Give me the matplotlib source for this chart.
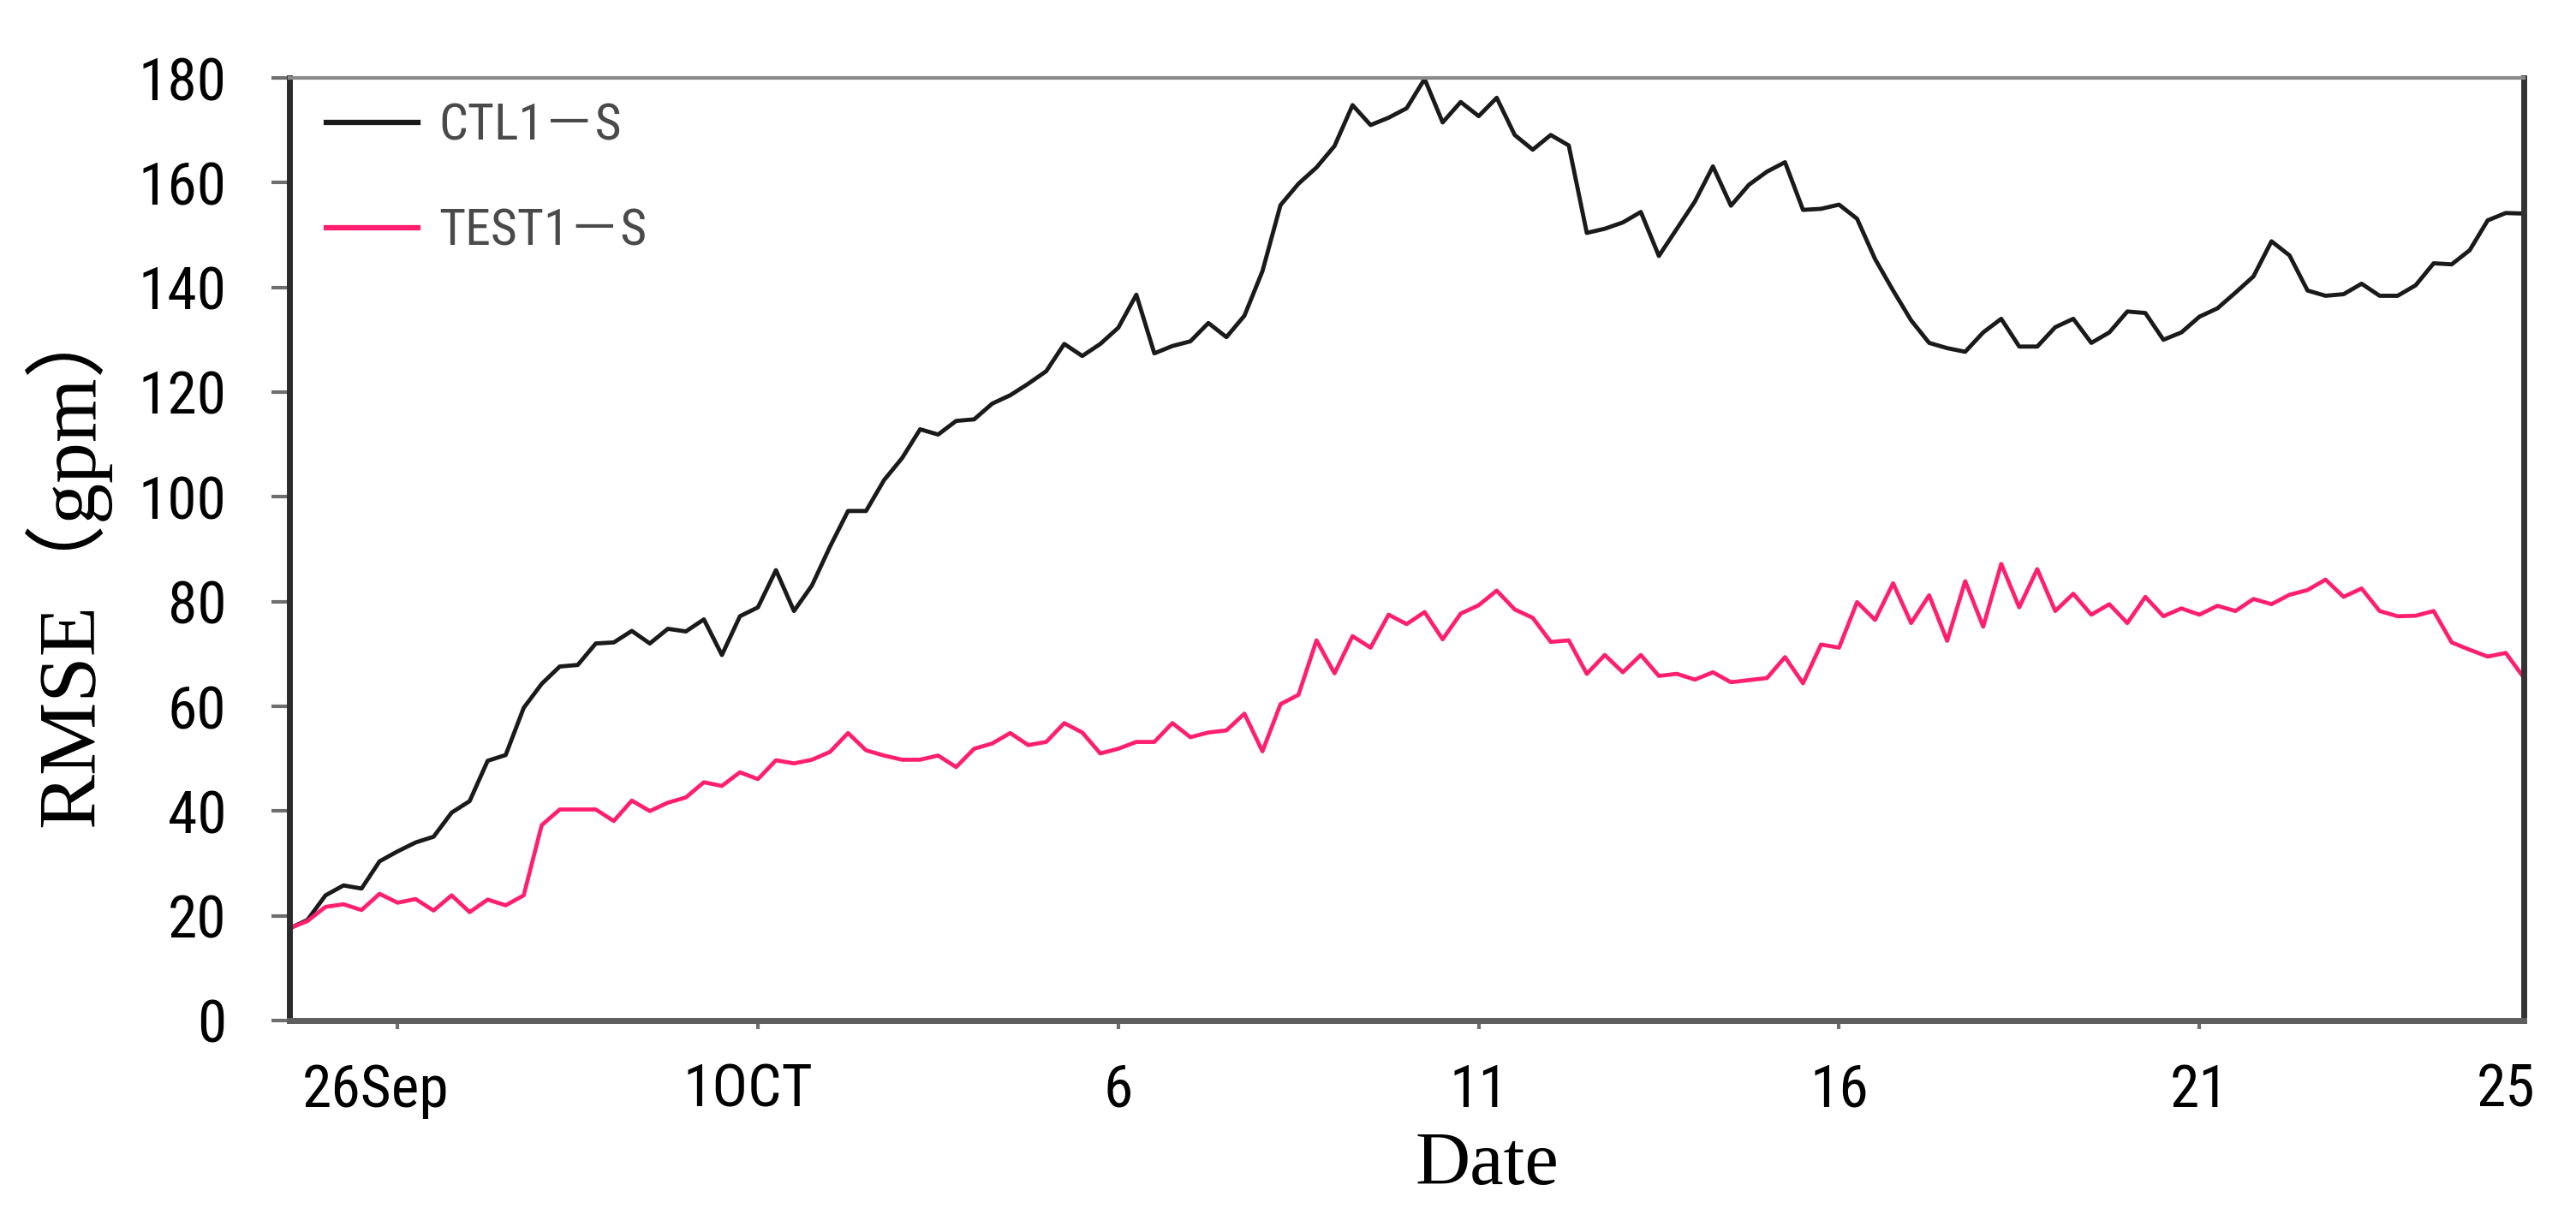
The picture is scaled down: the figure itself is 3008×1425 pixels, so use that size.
import os
import numpy as np
import matplotlib
matplotlib.use("Agg")
import matplotlib.pyplot as plt
from matplotlib import font_manager as fm
from matplotlib.transforms import ScaledTranslation

# ---------------- data (6-hourly, starting 24 Sep 12Z) ----------------
ctl1_s = [17.6, 19.2, 23.9, 25.8, 25.2, 30.4, 32.3, 34.0, 35.1, 39.7,
          41.9, 49.6, 50.7, 59.7, 64.3, 67.6, 67.9, 72.0, 72.2, 74.4,
          72.0, 74.8, 74.3, 76.6, 69.8, 77.2, 78.9, 86.0, 78.2, 83.1,
          90.5, 97.3, 97.3, 103.2, 107.4, 112.9, 111.9, 114.5, 114.8, 117.8,
          119.4, 121.6, 124.0, 129.2, 126.9, 129.2, 132.3, 138.6, 127.4, 128.8,
          129.7, 133.2, 130.5, 134.6, 143.1, 155.7, 159.8, 162.9, 167.0, 174.8,
          171.0, 172.4, 174.2, 179.8, 171.5, 175.4, 172.7, 176.2, 169.1, 166.3,
          169.1, 167.1, 150.4, 151.2, 152.4, 154.4, 146.0, 151.2, 156.4, 163.1,
          155.6, 159.6, 162.1, 163.9, 154.8, 155.0, 155.8, 153.1, 145.4, 139.4,
          133.7, 129.4, 128.4, 127.7, 131.4, 134.0, 128.7, 128.7, 132.4, 134.0,
          129.4, 131.4, 135.4, 135.1, 130.0, 131.4, 134.4, 136.0, 139.0, 142.1,
          148.8, 146.1, 139.4, 138.4, 138.7, 140.7, 138.4, 138.4, 140.4, 144.6,
          144.4, 147.1, 152.8, 154.2, 154.1]

test1_s = [17.6, 19.0, 21.7, 22.2, 21.1, 24.2, 22.5, 23.2, 21.0, 23.9,
           20.7, 23.1, 22.0, 23.9, 37.3, 40.3, 40.3, 40.3, 38.1, 42.0,
           40.0, 41.6, 42.6, 45.5, 44.8, 47.4, 46.1, 49.7, 49.1, 49.8,
           51.3, 54.9, 51.6, 50.6, 49.8, 49.8, 50.6, 48.4, 51.9, 52.9,
           54.9, 52.6, 53.2, 56.8, 55.0, 51.0, 51.9, 53.2, 53.2, 56.8,
           54.1, 55.0, 55.4, 58.6, 51.4, 60.4, 62.2, 72.6, 66.3, 73.4,
           71.2, 77.5, 75.7, 78.0, 72.8, 77.7, 79.3, 82.1, 78.5, 76.9,
           72.3, 72.6, 66.2, 69.8, 66.5, 69.8, 65.8, 66.2, 65.1, 66.5,
           64.6, 65.0, 65.4, 69.4, 64.4, 71.8, 71.2, 79.9, 76.5, 83.5,
           75.9, 81.2, 72.5, 83.9, 75.2, 87.2, 78.9, 86.2, 78.2, 81.5,
           77.5, 79.5, 75.9, 80.9, 77.2, 78.7, 77.5, 79.2, 78.2, 80.5,
           79.5, 81.3, 82.2, 84.2, 80.9, 82.5, 78.2, 77.2, 77.3, 78.2,
           72.2, 70.8, 69.5, 70.2, 65.5]

series_names = ["CTL1－S", "TEST1－S"]
start_offset_days = -1.5          # 24 Sep 12Z relative to 26 Sep 00Z
step_hours = 6
tick_days = [0, 5, 10, 15, 20, 25, 29.25]
tick_labels = ["26Sep", "1OCT", "6", "11", "16", "21", "25"]
y_ticks = [0, 20, 40, 60, 80, 100, 120, 140, 160, 180]

# ---------------- fonts: look for a narrow / condensed sans ----------------
prefs = ["liberationsansnarrow-regular", "arialnarrow", "robotocondensed-regular",
         "notosans-condensed.", "notosans-condensedregular", "opensans-condensed",
         "dejavusanscondensed."]
paths = [f.fname for f in fm.fontManager.ttflist]
narrow_path = None
for p in prefs:
    for fp in paths:
        if p in os.path.basename(fp).lower().replace("_", "-"):
            narrow_path = fp
            break
    if narrow_path:
        break

if narrow_path:
    tick_fp = fm.FontProperties(fname=narrow_path, size=50)
    leg_family = [fm.FontProperties(fname=narrow_path).get_name(), "Noto Sans CJK SC"]
else:
    tick_fp = fm.FontProperties(family="Liberation Sans", size=46)
    leg_family = ["Liberation Sans", "Noto Sans CJK SC"]
serif = ["Liberation Serif", "Noto Sans CJK SC"]

x = start_offset_days + np.arange(len(ctl1_s)) * step_hours / 24.0

W, H = 3008, 1425
fig = plt.figure(figsize=(W / 100, H / 100), dpi=100)
L, R, T, B = 338, 2947, 91, 1192
ax = fig.add_axes([L / W, 1 - B / H, (R - L) / W, (B - T) / H])

ax.plot(x, ctl1_s, color="#1a1a1a", lw=3.5, label=series_names[0],
        solid_joinstyle="round")
ax.plot(x, test1_s, color="#ff1f6e", lw=3.4, label=series_names[1],
        solid_joinstyle="round")

ax.set_xlim(x[0], x[-1])
ax.set_ylim(0, 180)

ax.set_yticks(y_ticks)
ax.set_yticklabels([str(v) for v in y_ticks], fontproperties=tick_fp)
ax.set_xticks(tick_days)
ax.set_xticklabels(tick_labels, fontproperties=tick_fp)
ax.tick_params(axis="y", direction="out", length=15, width=3, color="#6e6e6e", pad=38)
ax.tick_params(axis="x", direction="out", length=7, width=3, color="#6e6e6e", pad=28)
ax.xaxis.get_major_ticks()[-1].tick1line.set_visible(False)
xlbls = ax.get_xticklabels()
for lbl, dx in zip(xlbls[:2], (-26, -12)):
    lbl.set_transform(lbl.get_transform() + ScaledTranslation(dx / 100, 0, fig.dpi_scale_trans))

ax.spines["left"].set_linewidth(5)
ax.spines["left"].set_color("#2b2b2b")
ax.spines["right"].set_linewidth(5)
ax.spines["right"].set_color("#333333")
ax.spines["bottom"].set_linewidth(5)
ax.spines["bottom"].set_color("#5e5e5e")
ax.spines["top"].set_linewidth(3)
ax.spines["top"].set_color("#8a8a8a")

ax.set_ylabel("RMSE（gpm）", fontfamily=serif, fontsize=69)
ax.yaxis.set_label_coords(-0.080, 0.488)
ax.set_xlabel("Date", fontfamily=serif, fontsize=64)
ax.xaxis.set_label_coords(0.536, -0.117)

leg = ax.legend(loc="upper left", bbox_to_anchor=(0.0164, 0.9746), frameon=False,
                prop={"family": leg_family, "size": 43},
                handlelength=1.8, handletextpad=0.4, labelspacing=1.1,
                borderaxespad=0, borderpad=0)
for t in leg.get_texts():
    t.set_color("#4a4a4a")
for h in leg.get_lines():
    h.set_linewidth(4.5)

fig.savefig("out.png", dpi=100, facecolor="white")
